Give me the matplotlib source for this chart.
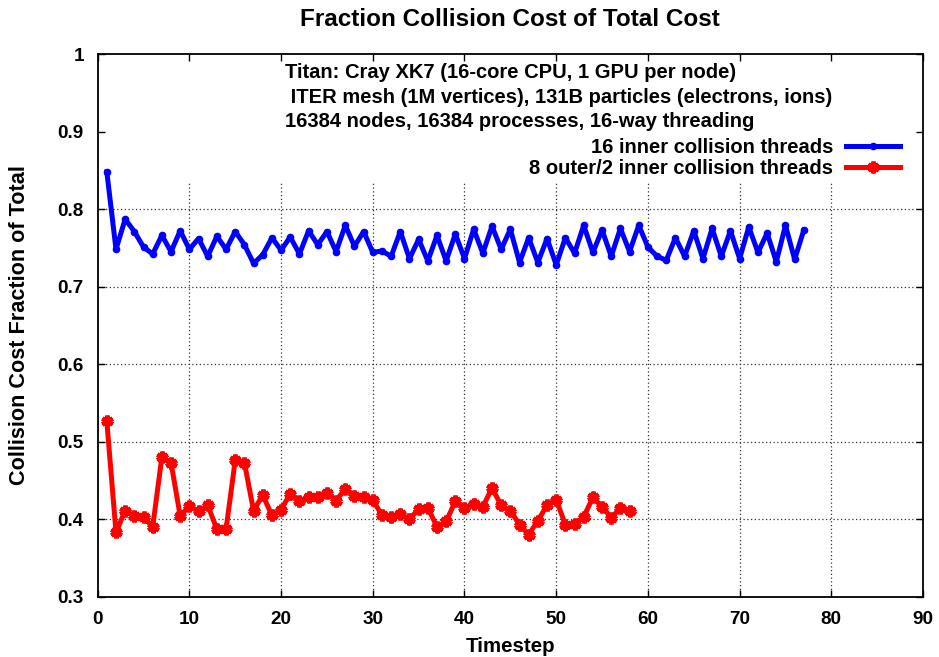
import numpy as np
import matplotlib
matplotlib.use("Agg")
from matplotlib import pyplot as plt

# fraction of total cost spent in collisions, per timestep
frac_16_inner = [0.848, 0.748, 0.787, 0.771, 0.751, 0.742, 0.766, 0.745, 0.772, 0.748,
                 0.762, 0.739, 0.765, 0.748, 0.771, 0.754, 0.730, 0.741, 0.763, 0.747,
                 0.764, 0.742, 0.772, 0.754, 0.771, 0.745, 0.779, 0.752, 0.771, 0.744,
                 0.746, 0.739, 0.771, 0.736, 0.761, 0.733, 0.766, 0.733, 0.768, 0.736,
                 0.774, 0.743, 0.778, 0.748, 0.774, 0.731, 0.763, 0.731, 0.762, 0.728,
                 0.763, 0.743, 0.779, 0.744, 0.773, 0.739, 0.775, 0.745, 0.779, 0.751,
                 0.739, 0.734, 0.763, 0.739, 0.772, 0.736, 0.775, 0.739, 0.772, 0.736,
                 0.777, 0.744, 0.769, 0.732, 0.779, 0.735, 0.773]
frac_8_outer = [0.526, 0.383, 0.411, 0.404, 0.403, 0.390, 0.480, 0.473, 0.404, 0.417,
                0.410, 0.418, 0.387, 0.387, 0.476, 0.473, 0.411, 0.431, 0.405, 0.412,
                0.433, 0.423, 0.429, 0.429, 0.434, 0.424, 0.439, 0.430, 0.429, 0.425,
                0.405, 0.403, 0.407, 0.400, 0.413, 0.415, 0.390, 0.397, 0.423, 0.414,
                0.420, 0.416, 0.440, 0.418, 0.411, 0.393, 0.380, 0.398, 0.418, 0.425,
                0.393, 0.394, 0.403, 0.428, 0.416, 0.402, 0.414, 0.410]
steps_16 = np.arange(1, len(frac_16_inner) + 1)
steps_8 = np.arange(1, len(frac_8_outer) + 1)

xticks = [0, 10, 20, 30, 40, 50, 60, 70, 80, 90]
yticks = [0.3, 0.4, 0.5, 0.6, 0.7, 0.8, 0.9, 1.0]
ytick_labels = ["0.3", "0.4", "0.5", "0.6", "0.7", "0.8", "0.9", "1"]

notes = ["Titan: Cray XK7 (16-core CPU, 1 GPU per node)",
         " ITER mesh (1M vertices), 131B particles (electrons, ions)",
         "16384 nodes, 16384 processes, 16-way threading"]

plt.rcParams['font.family'] = ['Liberation Sans', 'DejaVu Sans']
plt.rcParams['font.weight'] = 'bold'

fig = plt.figure(figsize=(9.39, 6.57), dpi=100)
ax = fig.add_axes([0.104, 0.0918, 0.879, 0.826])

ax.plot(steps_16, frac_16_inner, color='#0000ff', lw=3.6, marker='o', ms=4.5,
        label="16 inner collision threads", zorder=3)
ax.plot(steps_8, frac_8_outer, color='#ff0000', lw=3.6, marker=(6, 2, 0), ms=8.5, mew=3.2,
        label="8 outer/2 inner collision threads", zorder=3)

ax.set_xlim(0, 90)
ax.set_ylim(0.3, 1.0)
ax.set_xticks(xticks)
ax.set_yticks(yticks)
ax.set_yticklabels(ytick_labels)
ax.tick_params(direction='in', top=True, right=True, length=5, width=1,
               labelsize=13.6, pad=10)
for lab in ax.get_xticklabels() + ax.get_yticklabels():
    lab.set_fontweight('bold')
for sp in ax.spines.values():
    sp.set_linewidth(1.3)

# dotted grid, blanked where the key sits
key_bottom = 0.764
for xv in xticks[1:-1]:
    ax.axvline(xv, ymax=key_bottom, color='#333333', ls=(0, (1, 2)), lw=0.9, zorder=1)
for yv in yticks[1:-1]:
    if yv < 0.83:
        ax.axhline(yv, color='#333333', ls=(0, (1, 2)), lw=0.9, zorder=1)

ax.set_title("Fraction Collision Cost of Total Cost", fontsize=17.5, fontweight='bold', pad=20)
ax.set_xlabel("Timestep", fontsize=14.8, fontweight='bold', labelpad=7)
ax.set_ylabel("Collision Cost Fraction of Total", fontsize=15.6, fontweight='bold', labelpad=20)

note_y = [0.965, 0.9205, 0.876]
for txt, yy in zip(notes, note_y):
    ax.text(0.227, yy, txt, transform=ax.transAxes, fontsize=14.5, fontweight='bold',
            ha='left', va='center')

leg = ax.legend(loc='upper right', bbox_to_anchor=(0.972, 0.846), markerfirst=False,
                frameon=False, fontsize=14.5, handlelength=2.7, handletextpad=0.6,
                labelspacing=0.12, borderpad=0, borderaxespad=0)
for t in leg.get_texts():
    t.set_fontweight('bold')

fig.savefig("out.png", dpi=100)
